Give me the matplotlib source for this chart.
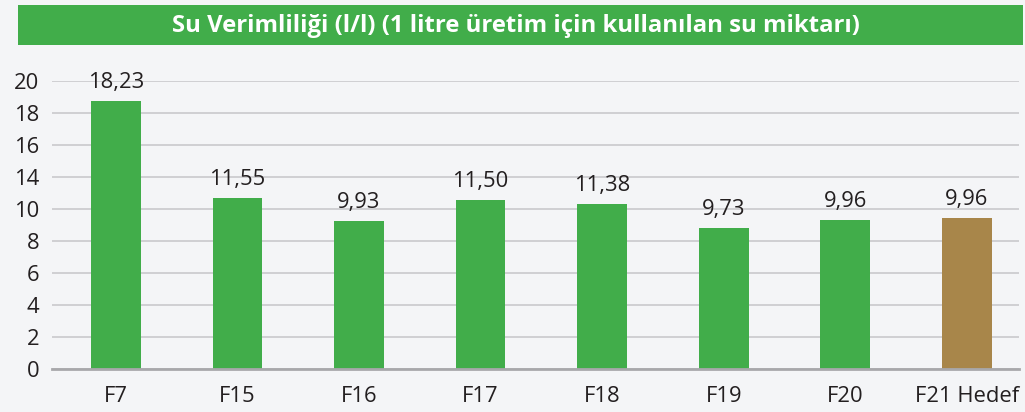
import matplotlib.pyplot as plt
from matplotlib.patches import Rectangle

categories = ["F7", "F15", "F16", "F17", "F18", "F19", "F20", "F21 Hedef"]
bar_heights = [16.77, 10.71, 9.27, 10.58, 10.33, 8.83, 9.33, 9.46]
value_labels = ["18,23", "11,55", "9,93", "11,50", "11,38", "9,73", "9,96", "9,96"]
bar_colors = ["#41ad4a"] * 7 + ["#a8864a"]
ytick_pos = [0, 2, 4, 6, 8, 10, 12, 14, 16, 18]
ytick_labels = ["0", "2", "4", "6", "8", "10", "14", "16", "18", "20"]
title = "Su Verimliliği (l/l) (1 litre üretim için kullanılan su miktarı)"

plt.rcParams['font.family'] = ['Open Sans', 'DejaVu Sans']
bg = "#f4f5f7"
fig = plt.figure(figsize=(10.25, 4.12), dpi=100, facecolor=bg)
ax = fig.add_axes([52/1025, (412-369.3)/412, (1019-52)/1025, (369.3-81)/412])
ax.set_facecolor(bg)

x = list(range(len(categories)))
ax.bar(x, bar_heights, width=0.41, color=bar_colors, zorder=3)
for xi, h, lab in zip(x, bar_heights, value_labels):
    ax.annotate(lab, (xi, h), xytext=(0, 9.5), textcoords="offset points",
                ha="center", va="baseline", fontsize=15.8, color="#231f20")

ax.set_xlim(-0.526, 7.43)
ax.set_ylim(0, 18)
ax.set_yticks(ytick_pos)
ax.set_yticklabels(ytick_labels)
ax.set_xticks(x)
ax.set_xticklabels(categories)
ax.tick_params(axis="both", length=0, labelsize=15.8, colors="#231f20")
ax.tick_params(axis="x", pad=12)
ax.tick_params(axis="y", pad=9)
for s in ["top", "right", "left"]:
    ax.spines[s].set_visible(False)
ax.spines["bottom"].set_color("#a8a8ab")
ax.spines["bottom"].set_linewidth(2)
ax.spines["bottom"].set_zorder(4)
ax.grid(axis="y", color="#c9c9cc", linewidth=1.2, zorder=0)
ax.set_axisbelow(True)

fig.patches.append(Rectangle((18/1025, (412-45)/412), (1023-18)/1025, 40/412,
                             transform=fig.transFigure, facecolor="#41ad4a",
                             edgecolor="none", zorder=0))
fig.text(516/1025, (412-26)/412, title, ha="center", va="center",
         color="white", fontsize=17.2, fontweight="bold")

fig.savefig("out.png", dpi=100, facecolor=bg)
